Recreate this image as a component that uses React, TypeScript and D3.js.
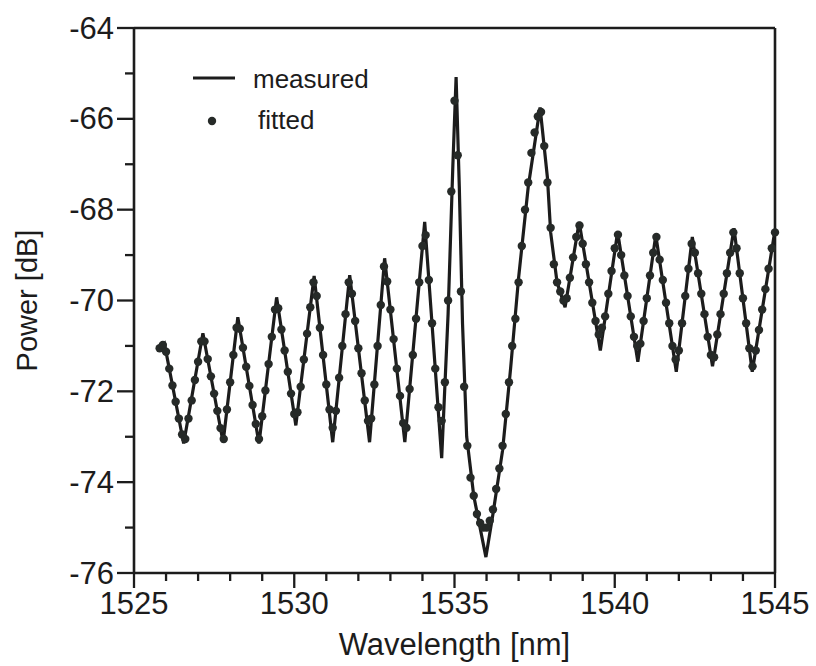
import React from "react";
import * as d3 from "d3";

const measuredWl = [
  1525.82, 1525.95, 1526.55, 1527.15, 1527.78, 1528.24, 1528.9, 1529.45, 1530.05, 1530.62,
  1531.2, 1531.73, 1532.35, 1532.82, 1533.45, 1534.07, 1534.6, 1534.8, 1534.95, 1535.05,
  1535.15, 1535.25, 1535.38, 1535.6, 1535.98, 1536.2, 1536.5, 1536.75, 1537.0, 1537.3,
  1537.67, 1537.9, 1538.0, 1538.2, 1538.45, 1538.89, 1539.55, 1540.09, 1540.72, 1541.28,
  1541.92, 1542.42, 1543.05, 1543.72, 1544.29, 1545.0,
];
const measuredDb = [
  -71.05, -70.95, -73.15, -70.72, -73.12, -70.37, -73.15, -69.93, -72.75, -69.46,
  -73.12, -69.44, -73.12, -69.07, -73.12, -68.27, -73.47, -70.3, -67.0, -65.08,
  -67.5, -70.5, -73.0, -74.3, -75.65, -74.7, -73.3, -71.5, -69.5, -67.5,
  -65.75, -67.3, -68.5, -69.6, -70.15, -68.27, -71.1, -68.49, -71.35, -68.56,
  -71.57, -68.6, -71.45, -68.41, -71.57, -68.45,
];

// fitted points, one every 0.1 nm from 1525.8 nm
const fittedStart = 1525.8;
const fittedStep = 0.1;
const fittedDb = [
  -71.05, -70.98, -71.13, -71.5, -71.87, -72.23, -72.6, -72.95, -73.05, -72.6,
  -72.2, -71.75, -71.35, -70.9, -70.9, -71.29, -71.67, -72.05, -72.43, -72.81,
  -73.05, -72.4, -71.8, -71.2, -70.6, -70.62, -71.04, -71.46, -71.88, -72.3,
  -72.72, -73.05, -72.55, -71.98, -71.4, -70.8, -70.2, -70.17, -70.64, -71.1,
  -71.57, -72.05, -72.5, -72.46, -71.9, -71.3, -70.73, -70.15, -69.6, -69.9,
  -70.6, -71.2, -71.85, -72.4, -72.8, -72.43, -71.7, -71.0, -70.3, -69.6,
  -69.85, -70.45, -71.05, -71.6, -72.2, -72.65, -72.6, -71.85, -71.0, -70.1,
  -69.25, -69.58, -70.2, -70.85, -71.5, -72.1, -72.7, -72.8, -71.95, -71.2,
  -70.4, -69.6, -68.8, -68.56, -69.55, -70.5, -71.5, -72.35, -72.65, -71.8,
  -70.0, -67.6, -65.6, -66.8, -69.8, -71.9, -73.2, -73.9, -74.3, -74.7,
  -74.9, -75.0, -75.0, -74.85, -74.6, -74.15, -73.7, -73.2, -72.5, -71.8,
  -71.0, -70.4, -69.6, -68.8, -68.0, -67.4, -66.75, -66.3, -65.95, -65.85,
  -66.6, -67.4, -68.4, -69.2, -69.6, -69.8, -70.0, -69.95, -69.5, -69.05,
  -68.6, -68.35, -68.75, -69.2, -69.6, -70.05, -70.45, -70.75, -70.6, -70.35,
  -69.85, -69.35, -68.85, -68.55, -69.0, -69.45, -69.9, -70.35, -70.8, -71.0,
  -70.95, -70.45, -69.95, -69.45, -68.95, -68.6, -69.1, -69.55, -70.05, -70.5,
  -71.0, -71.3, -71.1, -70.5, -69.9, -69.3, -68.75, -68.95, -69.4, -69.85,
  -70.3, -70.8, -71.2, -71.25, -70.75, -70.3, -69.85, -69.4, -68.95, -68.5,
  -68.85, -69.4, -69.95, -70.5, -71.05, -71.45, -71.1, -70.65, -70.2, -69.75,
  -69.3, -68.85, -68.5,
];

const xTicks = [1525, 1530, 1535, 1540, 1545];
const xMinor = [1526, 1527, 1528, 1529, 1531, 1532, 1533, 1534, 1536, 1537, 1538, 1539, 1541, 1542, 1543, 1544];
const yTicks = [-64, -66, -68, -70, -72, -74, -76];
const yMinor = [-65, -67, -69, -71, -73, -75];

const W = 816;
const H = 666;
const ink = "#1c1c1c";
const dotInk = "#262a28";
const font = "'Liberation Sans', Arial, sans-serif";

export default function App() {
  const x = d3.scaleLinear().domain([1525, 1545]).range([134, 775]);
  const y = d3.scaleLinear().domain([-76, -64]).range([573, 28]);

  const line = d3
    .line<number>()
    .x((_, i) => x(measuredWl[i]))
    .y((d) => y(d));

  const fitted = fittedDb.map((v, i) => ({ wl: fittedStart + i * fittedStep, v }));

  const [x0, x1] = x.range();
  const [yb, yt] = y.range();

  return (
    <svg
      width={W}
      height={H}
      style={{ position: "absolute", left: 0, top: 0, background: "#fff" }}
      fontFamily={font}
    >
      {/* frame */}
      <g stroke={ink} strokeWidth={2.6} fill="none">
        <line x1={x0} y1={yt} x2={x1} y2={yt} />
        <line x1={x1} y1={yt} x2={x1} y2={yb} />
        <line x1={x0} y1={yb} x2={x1} y2={yb} />
        <line x1={x0} y1={yt} x2={x0} y2={yb} />
      </g>

      {/* x axis */}
      <g stroke={ink} strokeWidth={2.3}>
        {xTicks.map((t) => (
          <line key={t} x1={x(t)} x2={x(t)} y1={yb} y2={yb + 15} />
        ))}
        {xMinor.map((t) => (
          <line key={t} x1={x(t)} x2={x(t)} y1={yb} y2={yb + 8} />
        ))}
      </g>
      {xTicks.map((t) => (
        <text key={t} x={x(t)} y={614} textAnchor="middle" fontSize={31} fill={ink}>
          {t}
        </text>
      ))}
      <text x={(x0 + x1) / 2} y={655} textAnchor="middle" fontSize={31} fill={ink}>
        Wavelength [nm]
      </text>

      {/* y axis */}
      <g stroke={ink} strokeWidth={2.3}>
        {yTicks.map((t) => (
          <line key={t} x1={x0 - 17} x2={x0} y1={y(t)} y2={y(t)} />
        ))}
        {yMinor.map((t) => (
          <line key={t} x1={x0 - 9} x2={x0} y1={y(t)} y2={y(t)} />
        ))}
      </g>
      {yTicks.map((t) => (
        <text
          key={t}
          x={x0 - 20}
          y={y(t)}
          textAnchor="end"
          dominantBaseline="central"
          fontSize={31}
          fill={ink}
        >
          {t}
        </text>
      ))}
      <text
        transform={`translate(27,${(yt + yb) / 2}) rotate(-90)`}
        textAnchor="middle"
        dominantBaseline="central"
        fontSize={29}
        fill={ink}
      >
        Power [dB]
      </text>

      {/* measured */}
      <path d={line(measuredDb) || ""} fill="none" stroke={ink} strokeWidth={3.2} strokeLinejoin="miter" />

      {/* fitted */}
      <g fill={dotInk}>
        {fitted.map((d, i) => (
          <circle key={i} cx={x(d.wl)} cy={y(d.v)} r={4.2} />
        ))}
      </g>

      {/* legend */}
      <line x1={193} x2={235} y1={78} y2={78} stroke={ink} strokeWidth={2.8} />
      <text x={253} y={88} fontSize={26} fill={ink}>
        measured
      </text>
      <circle cx={212} cy={121} r={4.2} fill={dotInk} />
      <text x={258} y={129} fontSize={26} fill={ink}>
        fitted
      </text>
    </svg>
  );
}
